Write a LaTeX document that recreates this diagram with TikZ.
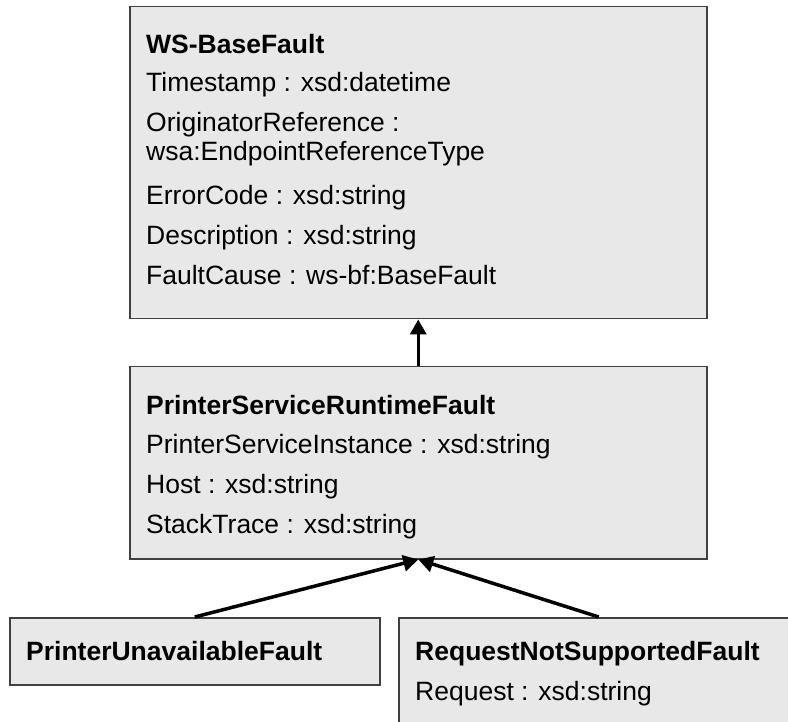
\documentclass[tikz,border=0pt]{standalone}
\usepackage{fontspec}
\setmainfont{Liberation Sans}
\usetikzlibrary{arrows.meta}

\begin{document}
\begin{tikzpicture}[x=1pt,y=-1pt,
  cls/.style={draw=black!75,line width=1.5pt,fill=black!9,anchor=north west,inner sep=0pt},
  ttl/.style={anchor=base west,inner sep=0pt,font=\fontsize{26.5}{30}\selectfont\bfseries},
  attr/.style={anchor=base west,inner sep=0pt,font=\fontsize{26.5}{30}\selectfont},
  gen/.style={line width=3.5pt,-{Triangle[length=15pt,width=16pt]}}]

\useasboundingbox (0,0) rectangle (788,722);

\node[cls,minimum width=577pt,minimum height=312pt] (base) at (129,6) {};
\node[cls,minimum width=577pt,minimum height=192pt] (runtime) at (129,366) {};
\node[cls,minimum width=370pt,minimum height=67pt] (unavail) at (9,617) {};
\node[cls,minimum width=400pt,minimum height=130pt] (notsupp) at (398,617) {};

\node[ttl] (base0) at (146,54) {WS-BaseFault};
\foreach \i/\y/\t in {1/92/Timestamp : xsd:datetime,2/132/OriginatorReference :,3/161/wsa:EndpointReferenceType,4/205/ErrorCode : xsd:string,5/245/Description : xsd:string,6/285/FaultCause : ws-bf:BaseFault}
{
\node[attr] (base\i) at (146,\y) {\t};
}

\node[ttl] (run0) at (146,414) {PrinterServiceRuntimeFault};
\foreach \i/\y/\t in {1/453/PrinterServiceInstance : xsd:string,2/493/Host : xsd:string,3/533/StackTrace : xsd:string}
{
\node[attr] (run\i) at (146,\y) {\t};
}

\node[ttl] (unavail0) at (26,660) {PrinterUnavailableFault};
\node[ttl] (notsupp0) at (415,660) {RequestNotSupportedFault};
\node[attr] (notsupp1) at (415,700) {Request : xsd:string};

\draw[gen] (runtime.north) -- (base.south);
\draw[gen] (unavail.north) -- (runtime.south);
\draw[gen] (notsupp.north) -- (runtime.south);
\end{tikzpicture}
\end{document}
